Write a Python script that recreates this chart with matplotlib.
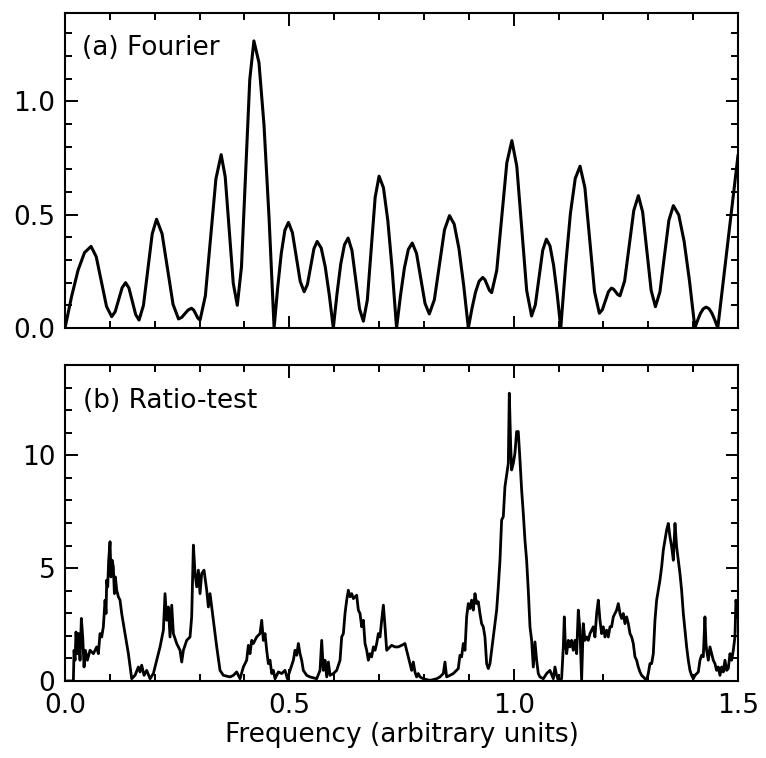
import matplotlib
matplotlib.use("Agg")
import matplotlib.pyplot as plt
from matplotlib.ticker import MultipleLocator

# (a) Fourier amplitude
fourier_freq = [0.0, 0.0145, 0.029, 0.0435, 0.058, 0.0695, 0.081, 0.0925, 0.104, 0.1118, 0.1195, 0.1273,
                0.135, 0.1425, 0.150, 0.1575, 0.165, 0.1748, 0.1845, 0.1943, 0.204, 0.2163, 0.2285, 0.2408,
                0.253, 0.2603, 0.2675, 0.2748, 0.282, 0.2868, 0.2915, 0.2963, 0.301, 0.3128, 0.3245, 0.3363,
                0.348, 0.357, 0.366, 0.375, 0.384, 0.3933, 0.4025, 0.4118, 0.421, 0.4323, 0.4435, 0.4548,
                0.466, 0.474, 0.482, 0.490, 0.498, 0.5068, 0.5155, 0.5243, 0.533, 0.5403, 0.5475, 0.5548,
                0.562, 0.571, 0.580, 0.589, 0.598, 0.6063, 0.6145, 0.6228, 0.631, 0.6395, 0.648, 0.6565,
                0.665, 0.6738, 0.6825, 0.6913, 0.700, 0.7098, 0.7195, 0.7293, 0.739, 0.7478, 0.7565, 0.7653,
                0.774, 0.7835, 0.793, 0.8025, 0.812, 0.8233, 0.8345, 0.8458, 0.857, 0.8675, 0.878, 0.8885,
                0.899, 0.907, 0.915, 0.923, 0.931, 0.936, 0.941, 0.946, 0.951, 0.9623, 0.9735, 0.9848,
                0.996, 1.007, 1.018, 1.029, 1.040, 1.0483, 1.0565, 1.0648, 1.073, 1.081, 1.089, 1.097,
                1.105, 1.1158, 1.1265, 1.1373, 1.148, 1.1588, 1.1695, 1.1803, 1.191, 1.1978, 1.2045, 1.2113,
                1.218, 1.2228, 1.2275, 1.2323, 1.237, 1.2473, 1.2575, 1.2678, 1.278, 1.2875, 1.297, 1.3065,
                1.316, 1.326, 1.336, 1.346, 1.356, 1.368, 1.380, 1.392, 1.404, 1.4103, 1.4165, 1.4228,
                1.429, 1.4355, 1.442, 1.4485, 1.455, 1.4663, 1.4775, 1.4888, 1.500]
fourier_amp = [0.00, 0.138, 0.255, 0.333, 0.36, 0.315, 0.205, 0.095, 0.05, 0.072, 0.125, 0.178,
               0.20, 0.176, 0.118, 0.059, 0.035, 0.100, 0.258, 0.415, 0.48, 0.416, 0.26, 0.104,
               0.04, 0.047, 0.064, 0.080, 0.087, 0.079, 0.061, 0.043, 0.035, 0.142, 0.40, 0.658,
               0.765, 0.668, 0.4325, 0.197, 0.10, 0.270, 0.684, 1.097, 1.267, 1.171, 0.896, 0.485,
               0.00, 0.178, 0.329, 0.431, 0.466, 0.421, 0.313, 0.205, 0.16, 0.192, 0.271, 0.350,
               0.382, 0.353, 0.270, 0.146, 0.00, 0.152, 0.281, 0.367, 0.397, 0.343, 0.2135, 0.084,
               0.03, 0.123, 0.35, 0.577, 0.67, 0.619, 0.474, 0.257, 0.00, 0.144, 0.265, 0.347,
               0.375, 0.329, 0.2185, 0.108, 0.062, 0.125, 0.279, 0.433, 0.496, 0.458, 0.351, 0.190,
               0.00, 0.085, 0.158, 0.206, 0.223, 0.213, 0.190, 0.166, 0.156, 0.254, 0.4915, 0.729,
               0.827, 0.714, 0.44, 0.166, 0.053, 0.102, 0.2225, 0.343, 0.392, 0.362, 0.277, 0.150,
               0.00, 0.273, 0.505, 0.660, 0.714, 0.619, 0.3895, 0.160, 0.065, 0.081, 0.1205, 0.160,
               0.176, 0.171, 0.159, 0.147, 0.142, 0.207, 0.363, 0.519, 0.584, 0.512, 0.339, 0.166,
               0.094, 0.159, 0.317, 0.475, 0.54, 0.499, 0.382, 0.207, 0.00, 0.035, 0.065, 0.085,
               0.092, 0.085, 0.065, 0.035, 0.00, 0.19, 0.38, 0.57, 0.76]

# (b) ratio-test
ratio_freq = [0.0, 0.0186, 0.0201, 0.0223, 0.0245, 0.0275, 0.0305, 0.0334, 0.0364, 0.0394, 0.0424, 0.0453,
              0.0498, 0.0557, 0.0632, 0.0706, 0.0743, 0.0780, 0.0817, 0.0854, 0.0892, 0.0914, 0.0929, 0.0951,
              0.0973, 0.1003, 0.1025, 0.1048, 0.1077, 0.1100, 0.1122, 0.1152, 0.1189, 0.1226, 0.1263, 0.1300,
              0.1337, 0.1412, 0.1486, 0.1560, 0.1635, 0.1672, 0.1709, 0.1761, 0.1820, 0.1895, 0.1969, 0.2043,
              0.2118, 0.2192, 0.2229, 0.2266, 0.2303, 0.2340, 0.2378, 0.2415, 0.2489, 0.2563, 0.2601, 0.2638,
              0.2712, 0.2786, 0.2823, 0.2861, 0.2898, 0.2935, 0.2972, 0.3009, 0.3046, 0.3098, 0.3158, 0.3195,
              0.3232, 0.3306, 0.3381, 0.3455, 0.3529, 0.3678, 0.3752, 0.3826, 0.3901, 0.3975, 0.4049, 0.4086,
              0.4123, 0.4161, 0.4198, 0.4272, 0.4346, 0.4384, 0.4421, 0.4458, 0.4495, 0.4532, 0.4569, 0.4607,
              0.4644, 0.4681, 0.4755, 0.4830, 0.4904, 0.4956, 0.5015, 0.5090, 0.5127, 0.5164, 0.5201, 0.5238,
              0.5275, 0.5312, 0.5387, 0.5461, 0.5610, 0.5684, 0.5721, 0.5758, 0.5795, 0.5833, 0.5870, 0.5907,
              0.5981, 0.6055, 0.6130, 0.6167, 0.6204, 0.6241, 0.6278, 0.6315, 0.6353, 0.6390, 0.6427, 0.6464,
              0.6501, 0.6538, 0.6575, 0.6613, 0.6650, 0.6687, 0.6724, 0.6761, 0.6798, 0.6835, 0.6873, 0.6910,
              0.6947, 0.6984, 0.7021, 0.7058, 0.7096, 0.7133, 0.7170, 0.7280, 0.7354, 0.7429, 0.7503, 0.7577,
              0.7614, 0.7652, 0.7689, 0.7726, 0.7763, 0.7800, 0.7837, 0.7874, 0.7912, 0.7986, 0.8060, 0.8135,
              0.8209, 0.8283, 0.8357, 0.8432, 0.8469, 0.8506, 0.8580, 0.8655, 0.8766, 0.8803, 0.8840, 0.8878,
              0.8915, 0.8952, 0.8989, 0.9026, 0.9063, 0.9100, 0.9138, 0.9175, 0.9212, 0.9249, 0.9286, 0.9323,
              0.9360, 0.9398, 0.9435, 0.9472, 0.9509, 0.9546, 0.9583, 0.9621, 0.9658, 0.9695, 0.9732, 0.9769,
              0.9806, 0.9843, 0.9881, 0.9903, 0.9932, 0.9955, 0.9992, 1.0029, 1.0066, 1.0103, 1.0141, 1.0178,
              1.0215, 1.0252, 1.0289, 1.0326, 1.0364, 1.0401, 1.0438, 1.0475, 1.0512, 1.0549, 1.0586, 1.0661,
              1.0735, 1.0809, 1.0884, 1.0921, 1.0958, 1.0995, 1.1069, 1.1107, 1.1129, 1.1151, 1.1181, 1.1218,
              1.1255, 1.1292, 1.1329, 1.1367, 1.1404, 1.1441, 1.1478, 1.1515, 1.1552, 1.1589, 1.1627, 1.1664,
              1.1701, 1.1738, 1.1775, 1.1812, 1.1850, 1.1887, 1.1924, 1.1961, 1.1998, 1.2035, 1.2072, 1.2110,
              1.2147, 1.2184, 1.2221, 1.2258, 1.2295, 1.2333, 1.2370, 1.2407, 1.2444, 1.2481, 1.2518, 1.2556,
              1.2593, 1.2630, 1.2667, 1.2704, 1.2741, 1.2778, 1.2816, 1.2853, 1.2890, 1.2927, 1.2964, 1.3001,
              1.3038, 1.3076, 1.3113, 1.3150, 1.3187, 1.3224, 1.3261, 1.3299, 1.3336, 1.3373, 1.3410, 1.3447,
              1.3484, 1.3522, 1.3559, 1.3596, 1.3633, 1.3670, 1.3707, 1.3744, 1.3782, 1.3819, 1.3856, 1.3893,
              1.3930, 1.3967, 1.4004, 1.4042, 1.4116, 1.4153, 1.4190, 1.4227, 1.4264, 1.4287, 1.4301, 1.4339,
              1.4376, 1.4413, 1.4450, 1.4487, 1.4524, 1.4561, 1.4599, 1.4636, 1.4673, 1.4710, 1.4747, 1.4784,
              1.4822, 1.4859, 1.4896, 1.4933, 1.4955, 1.4985, 1.5000]
ratio_val = [0.0, 0.0, 1.36, 0.92, 2.17, 1.21, 2.10, 0.92, 2.77, 1.95, 0.62, 1.36,
             0.92, 1.36, 1.21, 1.51, 1.21, 2.10, 1.95, 2.40, 3.58, 2.99, 4.47, 4.17,
             5.35, 6.17, 4.61, 5.35, 5.06, 3.87, 4.61, 4.02, 3.73, 3.58, 2.99, 2.54,
             2.10, 1.21, 0.10, 0.25, 0.62, 0.40, 0.70, 0.25, 0.47, 0.10, 0.33, 0.92,
             1.51, 2.25, 3.87, 2.69, 3.28, 1.95, 3.36, 2.10, 1.66, 1.36, 0.84, 1.36,
             1.80, 1.95, 2.84, 6.02, 4.76, 4.17, 4.91, 3.87, 4.76, 4.91, 4.02, 3.28,
             3.87, 2.69, 1.51, 0.47, 0.25, 0.18, 0.25, 0.40, 0.10, 0.62, 0.92, 1.58,
             1.21, 1.80, 1.66, 1.95, 2.10, 2.69, 1.80, 2.10, 1.36, 0.77, 0.92, 0.33,
             0.47, 0.10, 0.40, 0.33, 0.47, 0.10, 0.47, 0.92, 1.36, 1.14, 1.66, 1.21,
             0.92, 0.47, 0.25, 0.18, 0.10, 0.47, 1.80, 0.47, 0.92, 0.18, 0.84, 0.25,
             0.33, 0.47, 0.92, 1.95, 2.10, 2.99, 3.58, 4.02, 3.73, 3.87, 3.65, 3.73,
             3.80, 3.14, 2.99, 2.40, 2.69, 1.66, 1.36, 0.92, 1.21, 1.07, 1.51, 1.36,
             1.66, 2.10, 1.95, 2.69, 3.36, 2.40, 1.36, 1.58, 1.51, 1.51, 1.58, 1.66,
             1.36, 1.07, 0.77, 0.47, 0.84, 0.40, 0.18, 0.33, 0.18, 0.10, 0.06, 0.03,
             0.06, 0.10, 0.18, 0.33, 0.84, 0.18, 0.25, 0.33, 0.55, 1.14, 1.07, 1.66,
             1.36, 2.84, 3.43, 3.21, 3.58, 3.14, 3.87, 3.43, 3.51, 2.99, 2.54, 2.40,
             1.95, 0.77, 0.55, 0.77, 1.36, 1.95, 2.54, 3.14, 4.17, 5.35, 7.13, 7.28,
             8.61, 9.13, 9.64, 12.75, 10.53, 9.35, 9.64, 10.09, 11.05, 11.05, 9.79, 8.46,
             7.42, 6.24, 5.35, 4.02, 2.40, 1.80, 0.62, 1.73, 0.92, 0.33, 0.18, 0.10,
             0.33, 0.47, 0.10, 0.62, 0.25, 0.03, 0.10, 1.51, 2.84, 1.66, 1.21, 1.80,
             1.51, 1.80, 1.36, 1.80, 1.21, 3.14, 2.25, 0.03, 2.54, 1.80, 1.95, 1.80,
             2.10, 2.25, 2.40, 1.95, 2.99, 3.58, 2.69, 2.10, 2.40, 1.95, 2.25, 1.95,
             2.40, 2.40, 2.84, 2.99, 3.14, 3.43, 2.99, 2.77, 2.99, 2.54, 2.84, 2.54,
             2.10, 1.95, 1.66, 1.07, 0.92, 0.62, 0.40, 0.25, 0.18, 0.10, 0.03, 0.33,
             0.77, 0.77, 1.21, 2.69, 3.58, 4.02, 4.47, 5.06, 5.80, 6.24, 6.69, 6.98,
             6.39, 5.95, 5.35, 6.98, 5.95, 5.35, 4.76, 4.02, 2.99, 2.25, 1.51, 0.92,
             0.47, 0.25, 0.10, 0.25, 0.40, 0.92, 1.14, 1.07, 2.84, 1.66, 1.36, 0.92,
             1.51, 1.21, 0.92, 0.77, 0.47, 0.62, 0.25, 0.62, 0.40, 0.92, 0.47, 0.55,
             1.21, 0.92, 1.36, 1.95, 3.58, 3.14, 2.84]

x_ticks = [0.0, 0.5, 1.0, 1.5]
x_ticklabels = ["0.0", "0.5", "1.0", "1.5"]
a_yticks = [0.0, 0.5, 1.0]
a_yticklabels = ["0.0", "0.5", "1.0"]
b_yticks = [0, 5, 10]
b_yticklabels = ["0", "5", "10"]

plt.rcParams['font.family'] = ['DejaVu Sans']
FS = 19

fig = plt.figure(figsize=(7.66, 7.58), dpi=100)
ax1 = fig.add_axes([0.0849, 0.5673, 0.8785, 0.4155])
ax2 = fig.add_axes([0.0849, 0.1016, 0.8785, 0.4169])

ax1.plot(fourier_freq, fourier_amp, color='black', lw=2.2, solid_joinstyle='round')
ax2.plot(ratio_freq, ratio_val, color='black', lw=2.0, solid_joinstyle='round')

for ax in (ax1, ax2):
    ax.set_xlim(0, 1.5)
    ax.set_xticks(x_ticks)
    ax.xaxis.set_minor_locator(MultipleLocator(0.1))
    ax.tick_params(which='both', direction='in', top=True, right=True,
                   labelsize=FS, width=1.4)
    ax.tick_params(which='major', length=9)
    ax.tick_params(which='minor', length=5)
    ax.tick_params(axis='y', pad=7)
    ax.tick_params(axis='x', pad=9)
    for s in ax.spines.values():
        s.set_linewidth(1.5)

ax1.set_ylim(0, 1.39)
ax1.set_yticks(a_yticks)
ax1.set_yticklabels(a_yticklabels)
ax1.yaxis.set_minor_locator(MultipleLocator(0.1))
ax1.set_xticklabels([])

ax2.set_ylim(0, 14)
ax2.set_yticks(b_yticks)
ax2.set_yticklabels(b_yticklabels)
ax2.yaxis.set_minor_locator(MultipleLocator(1))
ax2.set_xticklabels(x_ticklabels)
ax2.set_xlabel("Frequency (arbitrary units)", fontsize=FS, labelpad=2)

ax1.text(0.025, 0.889, "(a) Fourier", transform=ax1.transAxes, fontsize=FS,
         ha='left', va='center')
ax2.text(0.027, 0.886, "(b) Ratio-test", transform=ax2.transAxes, fontsize=FS,
         ha='left', va='center')

fig.savefig("out.png", dpi=100)
